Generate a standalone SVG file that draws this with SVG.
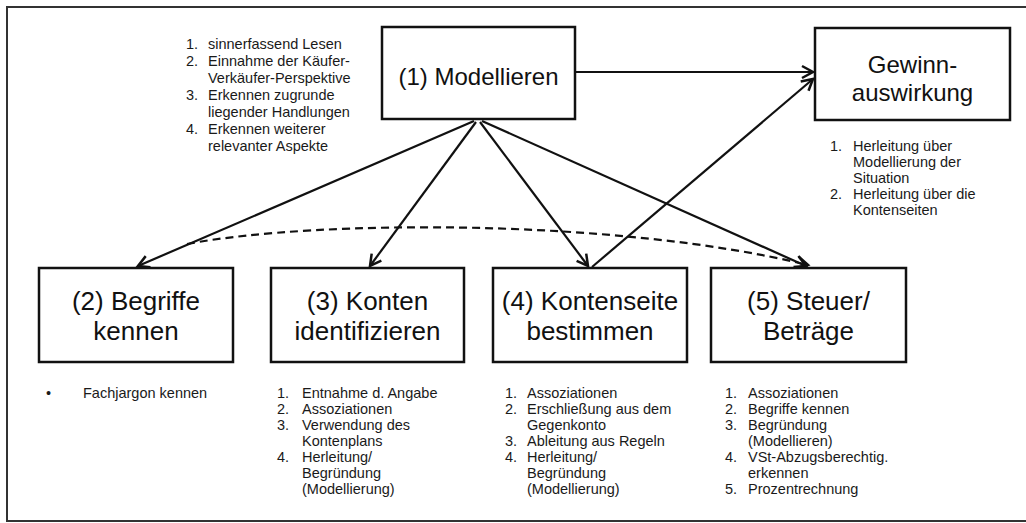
<svg xmlns="http://www.w3.org/2000/svg" width="1026" height="523" viewBox="0 0 1026 523">
<style>
.box{fill:#fff;stroke:#111;stroke-width:2.5}
.nt{font-family:"Liberation Sans",Arial,sans-serif;font-size:26px;fill:#111;text-anchor:middle}
.lt{font-family:"Liberation Sans",Arial,sans-serif;font-size:14.5px;fill:#1a1a1a}
.c{fill:none;stroke:#111;stroke-width:2.2}
</style>
<defs>
<marker id="ah" markerUnits="userSpaceOnUse" markerWidth="18" markerHeight="18" refX="14" refY="9" orient="auto">
<path d="M3,3 L14,9 L3,15" fill="none" stroke="#111" stroke-width="2.5"/>
</marker>
</defs>
<rect x="7" y="7" width="1030" height="514" fill="#fff" stroke="#333" stroke-width="2"/>

<g id="connectors">
<line class="c" x1="576" y1="72" x2="813" y2="72" stroke-width="3" marker-end="url(#ah)"/>
<line class="c" x1="474" y1="121" x2="138" y2="266" stroke-width="3.5" marker-end="url(#ah)"/>
<line class="c" x1="476" y1="122" x2="370" y2="266" marker-end="url(#ah)"/>
<line class="c" x1="480" y1="122" x2="588" y2="266" marker-end="url(#ah)"/>
<line class="c" x1="482" y1="121" x2="806" y2="266" marker-end="url(#ah)"/>
<line class="c" x1="592" y1="267" x2="813" y2="79" marker-end="url(#ah)"/>
<path class="c" d="M187,244 C320,219 620,219 808,265" stroke-width="2" stroke-dasharray="8 5" marker-end="url(#ah)"/>
</g>

<g id="node1">
<rect class="box" x="382" y="27" width="193" height="92"/>
<text class="nt" x="478.5" y="85" style="font-size:24px">(1) Modellieren</text>
</g>

<g id="node-gewinn">
<rect class="box" x="815" y="28" width="195" height="92"/>
<text class="nt" x="912.5" y="73" style="font-size:24px">Gewinn-</text>
<text class="nt" x="912.5" y="101" style="font-size:24px">auswirkung</text>
</g>

<g id="node2">
<rect class="box" x="39" y="268" width="194" height="94"/>
<text class="nt" x="136" y="310">(2) Begriffe</text>
<text class="nt" x="136" y="340">kennen</text>
</g>

<g id="node3">
<rect class="box" x="271" y="268" width="193" height="94"/>
<text class="nt" x="367.5" y="310">(3) Konten</text>
<text class="nt" x="367.5" y="340">identifizieren</text>
</g>

<g id="node4">
<rect class="box" x="493" y="268" width="194" height="94"/>
<text class="nt" x="590" y="310">(4) Kontenseite</text>
<text class="nt" x="590" y="340">bestimmen</text>
</g>

<g id="node5">
<rect class="box" x="711" y="268" width="195" height="94"/>
<text class="nt" x="808.5" y="310">(5) Steuer/</text>
<text class="nt" x="808.5" y="340">Beträge</text>
</g>

<g id="list-modellieren" class="lt">
<text x="186" y="49">1.</text><text x="208" y="49">sinnerfassend Lesen</text>
<text x="186" y="66">2.</text><text x="208" y="66">Einnahme der Käufer-</text>
<text x="208" y="83">Verkäufer-Perspektive</text>
<text x="186" y="100">3.</text><text x="208" y="100">Erkennen zugrunde</text>
<text x="208" y="117">liegender Handlungen</text>
<text x="186" y="134">4.</text><text x="208" y="134">Erkennen weiterer</text>
<text x="208" y="151">relevanter Aspekte</text>
</g>

<g id="list-gewinn" class="lt">
<text x="830" y="151">1.</text><text x="853" y="151">Herleitung über</text>
<text x="853" y="167">Modellierung der</text>
<text x="853" y="183">Situation</text>
<text x="830" y="199">2.</text><text x="853" y="199">Herleitung über die</text>
<text x="853" y="215">Kontenseiten</text>
</g>

<g id="list2" class="lt">
<text x="46" y="398">•</text><text x="83" y="398">Fachjargon kennen</text>
</g>

<g id="list3" class="lt">
<text x="277" y="398">1.</text><text x="302" y="398">Entnahme d. Angabe</text>
<text x="277" y="414">2.</text><text x="302" y="414">Assoziationen</text>
<text x="277" y="430">3.</text><text x="302" y="430">Verwendung des</text>
<text x="302" y="446">Kontenplans</text>
<text x="277" y="462">4.</text><text x="302" y="462">Herleitung/</text>
<text x="302" y="478">Begründung</text>
<text x="302" y="494">(Modellierung)</text>
</g>

<g id="list4" class="lt">
<text x="505" y="398">1.</text><text x="527" y="398">Assoziationen</text>
<text x="505" y="414">2.</text><text x="527" y="414">Erschließung aus dem</text>
<text x="527" y="430">Gegenkonto</text>
<text x="505" y="446">3.</text><text x="527" y="446">Ableitung aus Regeln</text>
<text x="505" y="462">4.</text><text x="527" y="462">Herleitung/</text>
<text x="527" y="478">Begründung</text>
<text x="527" y="494">(Modellierung)</text>
</g>

<g id="list5" class="lt">
<text x="725" y="398">1.</text><text x="748" y="398">Assoziationen</text>
<text x="725" y="414">2.</text><text x="748" y="414">Begriffe kennen</text>
<text x="725" y="430">3.</text><text x="748" y="430">Begründung</text>
<text x="748" y="446">(Modellieren)</text>
<text x="725" y="462">4.</text><text x="748" y="462">VSt-Abzugsberechtig.</text>
<text x="748" y="478">erkennen</text>
<text x="725" y="494">5.</text><text x="748" y="494">Prozentrechnung</text>
</g>
</svg>
